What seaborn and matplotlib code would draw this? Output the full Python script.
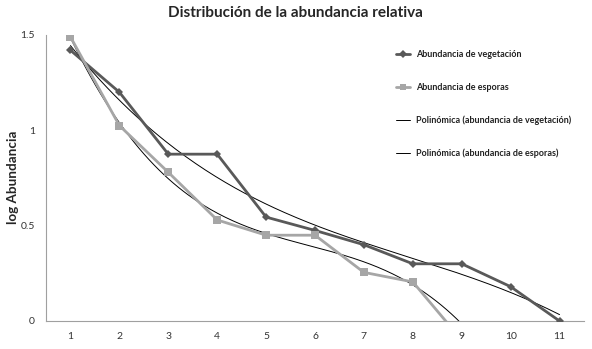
import numpy as np
import pandas as pd
import matplotlib
matplotlib.use("Agg")
import matplotlib.pyplot as plt
import matplotlib.font_manager as fm
import seaborn as sns
from matplotlib.lines import Line2D

x_vals = [1, 2, 3, 4, 5, 6, 7, 8, 9, 10, 11]
vegetacion = [1.42, 1.20, 0.875, 0.875, 0.545, 0.475, 0.40, 0.30, 0.30, 0.18, 0.0]
esporas = [1.49, 1.025, 0.78, 0.53, 0.45, 0.45, 0.255, 0.205, -0.10]
y_ticks = [0, 0.5, 1, 1.5]
y_ticklabels = ["0", "0.5", "1", "1.5"]
title = "Distribución de la abundancia relativa"
ylabel = "log Abundancia"
labels = ["Abundancia de vegetación", "Abundancia de esporas",
          "Polinómica (abundancia de vegetación)", "Polinómica (abundancia de esporas)"]


def pick_font(cands):
    for c in cands:
        try:
            fm.findfont(fm.FontProperties(family=c), fallback_to_default=False)
            return c
        except Exception:
            pass
    return "DejaVu Sans"


narrow = pick_font(["Liberation Sans Narrow", "DejaVu Sans Condensed", "Lato",
                    "Liberation Sans"])
fam = [narrow, 'DejaVu Sans']

sns.set_theme(style="white")
plt.rcParams['font.family'] = fam

fig = plt.figure(figsize=(5.92, 3.49), dpi=100)
ax = fig.add_axes([46/592, 28/349, (584-46)/592, (321-35)/349])
renderer = fig.canvas.get_renderer()


def fit_size(text, target_px, start, weight="bold"):
    size = start
    while size > 4:
        t = fig.text(0, 0, text, fontsize=size, fontweight=weight, family=fam)
        w = t.get_window_extent(renderer).width
        t.remove()
        if w <= target_px:
            return size
        size -= 0.25
    return size


df_v = pd.DataFrame({"x": x_vals, "y": vegetacion})
df_e = pd.DataFrame({"x": x_vals[:len(esporas)], "y": esporas})

sns.lineplot(data=df_v, x="x", y="y", ax=ax, color="#595959", linewidth=2,
             marker="D", markersize=4.5, markeredgewidth=0, zorder=3)
sns.lineplot(data=df_e, x="x", y="y", ax=ax, color="#a6a6a6", linewidth=2,
             marker="s", markersize=5.5, markeredgewidth=0, zorder=3)

# polynomial trendlines (order 3)
cv = np.polyfit(df_v["x"], df_v["y"], 3)
pos = df_e[df_e["y"] > 0]
ce = np.polyfit(pos["x"], pos["y"], 3)
xs = np.linspace(1, 11, 200)
sns.lineplot(x=xs, y=np.polyval(cv, xs), ax=ax, color="black", linewidth=0.7, zorder=2)
sns.lineplot(x=xs, y=np.polyval(ce, xs), ax=ax, color="black", linewidth=0.7, zorder=2)

ax.set_xlim(0.5, 11.5)
ax.set_ylim(0, 1.5)
ax.set_xticks(x_vals)
ax.set_xticklabels([str(v) for v in x_vals], fontsize=7.5, color="#333333")
ax.set_yticks(y_ticks)
ax.set_yticklabels(y_ticklabels, fontsize=7.5, color="#333333")
ax.tick_params(axis="both", length=0, pad=8)
ax.set_xlabel("")
ax.set_ylabel("")
for s in ["top", "right"]:
    ax.spines[s].set_visible(False)
for s in ["left", "bottom"]:
    ax.spines[s].set_color("#a0a0a0")
    ax.spines[s].set_linewidth(0.8)

yl_size = fit_size(ylabel, 94, 12)
fig.text(13/592, 1 - 177/349, ylabel, rotation=90, ha="center", va="center",
         fontsize=yl_size, fontweight="bold", family=fam)
t_size = fit_size(title, 260, 14)
fig.text(295/592, 1 - 13/349, title, ha="center", va="center", fontsize=t_size,
         fontweight="bold", family=fam)

handles = [
    Line2D([], [], color="#595959", linewidth=2, marker="D", markersize=4, markeredgewidth=0),
    Line2D([], [], color="#a6a6a6", linewidth=2, marker="s", markersize=5, markeredgewidth=0),
    Line2D([], [], color="black", linewidth=0.7),
    Line2D([], [], color="black", linewidth=0.7),
]

size = fit_size(labels[2], 160, 7.5)
leg = ax.legend(handles, labels, loc="upper left", bbox_to_anchor=(0.635, 0.975),
                frameon=False, fontsize=size, labelspacing=2.6, handlelength=1.6,
                handletextpad=0.6)
for t in leg.get_texts():
    t.set_fontweight("bold")
    t.set_color("#222222")

fig.savefig("out.png", dpi=100)
